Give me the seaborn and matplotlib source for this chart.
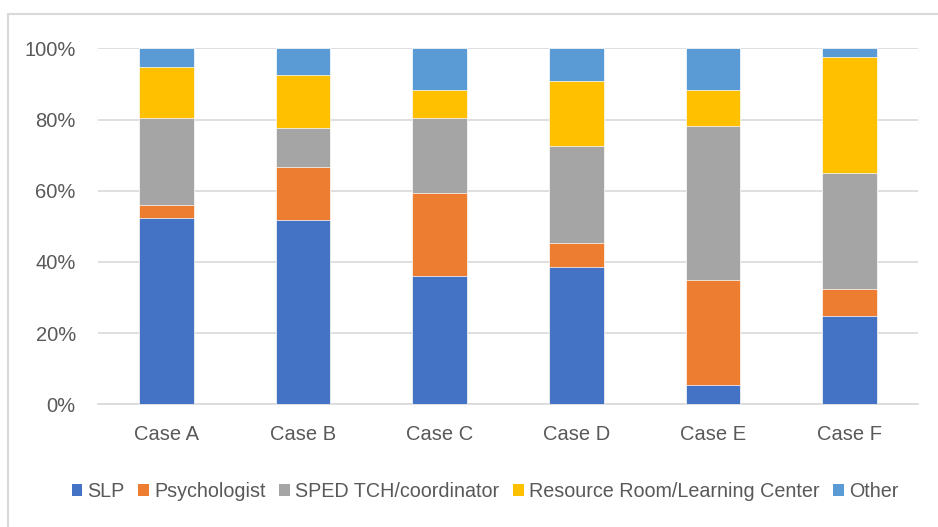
# Stacked 100% bar chart of referral sources per case
import numpy as np
import pandas as pd
import seaborn as sns
import matplotlib.pyplot as plt
from matplotlib.patches import Patch, Rectangle

cases = ["Case A", "Case B", "Case C", "Case D", "Case E", "Case F"]
series = ["SLP", "Psychologist", "SPED TCH/coordinator",
          "Resource Room/Learning Center", "Other"]
slp = [52.4, 51.9, 36.1, 38.5, 5.5, 24.9]
psych = [3.5, 14.7, 23.3, 6.9, 29.3, 7.5]
sped = [24.6, 11.1, 21.0, 27.2, 43.5, 32.5]
resource = [14.2, 14.8, 7.9, 18.2, 10.0, 32.6]
other = [5.3, 7.5, 11.7, 9.2, 11.7, 2.5]
colors = ["#4472C4", "#ED7D31", "#A5A5A5", "#FFC000", "#5B9BD5"]

sns.set_style("white")
plt.rcParams['font.family'] = ['Liberation Sans', 'DejaVu Sans']
txt = "#595959"

values = np.array([slp, psych, sped, resource, other])
cum = np.cumsum(values, axis=0)
df = pd.DataFrame({"case": np.tile(cases, len(series)),
                   "series": np.repeat(series, len(cases)),
                   "top": cum.ravel()})

fig = plt.figure(figsize=(9.38, 5.27), dpi=100)
ax = fig.add_axes([0.1045, 0.2328, 0.8742, 0.6755])

# draw from the top series down so lower segments cover the upper ones
for name, col in reversed(list(zip(series, colors))):
    sns.barplot(data=df[df["series"] == name], x="case", y="top", color=col,
                saturation=1, width=0.4, edgecolor="white", linewidth=0.5,
                ax=ax, zorder=3)

ax.set_ylim(0, 100)
ax.set_yticks(range(0, 101, 20))
ax.set_yticklabels([f"{v}%" for v in range(0, 101, 20)])
ax.set_xlabel("")
ax.set_ylabel("")
ax.grid(axis="y", color="#D9D9D9", linewidth=1.2, zorder=0)
ax.set_axisbelow(True)
for s in ["top", "right", "left"]:
    ax.spines[s].set_visible(False)
ax.spines["bottom"].set_color("#D9D9D9")
ax.spines["bottom"].set_linewidth(1.2)
ax.tick_params(axis="both", length=0, labelsize=14.5, colors=txt)
ax.tick_params(axis="y", pad=16)
ax.tick_params(axis="x", pad=15)

handles = [Patch(facecolor=c, edgecolor="none") for c in colors]
fig.legend(handles, series, loc="center", bbox_to_anchor=(0.517, 0.068),
           ncol=5, frameon=False, fontsize=14.2, labelcolor=txt,
           handlelength=0.55, handleheight=0.55, handletextpad=0.25,
           columnspacing=0.7)

# light outer border like the source chart
fig.patches.append(Rectangle((8 / 938, -0.1), 1.2, 0.1 + (527 - 14) / 527,
                             transform=fig.transFigure, fill=False,
                             edgecolor="#D9D9D9", linewidth=1.5))

plt.savefig("out.png", dpi=100)
